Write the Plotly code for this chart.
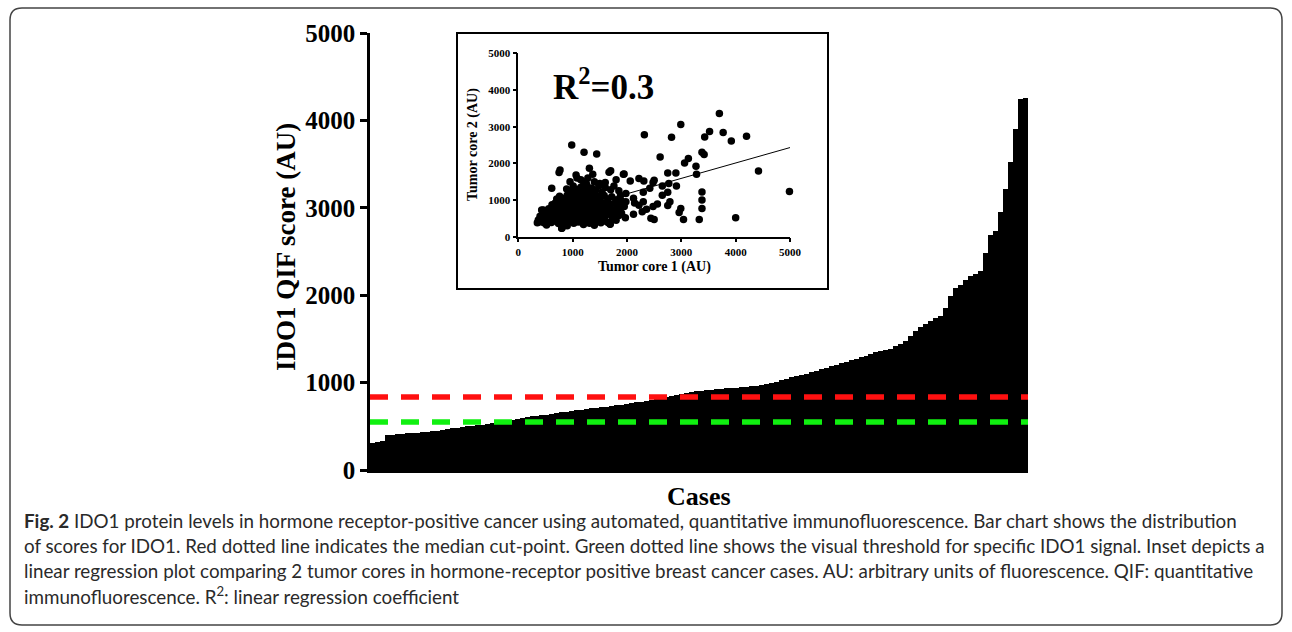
import plotly.graph_objects as go

W, H = 1292, 632

# ---------------- data ----------------
# Sorted IDO1 QIF scores per case (bar chart)
ido1_scores = [
    312, 325, 335, 395, 402, 408, 412, 418, 422, 427, 432, 438, 445, 452, 460, 468,
    476, 485, 493, 500, 506, 512, 519, 528, 536, 545, 555, 564, 574, 585, 596, 606,
    613, 620, 626, 633, 642, 651, 659, 667, 675, 683, 692, 700, 707, 713, 719, 726,
    733, 740, 747, 755, 764, 774, 783, 790, 798, 808, 820, 833, 848, 858, 868, 880,
    890, 899, 907, 914, 920, 925, 930, 935, 939, 943, 947, 952, 958, 965, 972, 980,
    990, 1005, 1025, 1046, 1060, 1073, 1088, 1104, 1120, 1138, 1157, 1172, 1188, 1204, 1220, 1237,
    1255, 1274, 1292, 1310, 1328, 1345, 1358, 1370, 1390, 1415, 1440, 1480, 1530, 1590, 1640, 1672,
    1710, 1735, 1758, 1850, 1990, 2080, 2120, 2170, 2215, 2245, 2275, 2480, 2690, 2730, 2950, 3220,
    3520, 3900, 4250, 4256,
]
cases = list(range(len(ido1_scores)))

median_cut = 835          # red dashed line
visual_threshold = 550    # green dashed line

y_ticks = [0, 1000, 2000, 3000, 4000, 5000]
inset_ticks = [0, 1000, 2000, 3000, 4000, 5000]

# Inset scatter: tumor core 1 (x) vs tumor core 2 (y)
core1 = [
    # low band
    380, 420, 470, 520, 560, 610, 650, 700, 740, 780, 800, 830, 870, 900, 940, 980, 1020, 1060,
    1100, 1140, 1180, 1230, 1270, 1310, 1350, 1400, 1440, 1480, 1520, 1560, 1600, 1650, 1690, 1740, 1800,
    # ~600
    400, 450, 500, 540, 580, 620, 660, 700, 750, 790, 820, 860, 900, 940, 980, 1010, 1050, 1090,
    1130, 1170, 1210, 1250, 1290, 1330, 1370, 1420, 1460, 1500, 1550, 1600, 1660, 1720, 1780, 1850, 1900,
    # ~750
    430, 480, 560, 600, 640, 690, 730, 770, 810, 850, 890, 930, 970, 1000, 1040, 1080, 1120,
    1160, 1200, 1240, 1280, 1320, 1360, 1400, 1450, 1490, 1530, 1580, 1620, 1680, 1750, 1820, 1870,
    # ~900
    620, 680, 720, 760, 800, 840, 880, 920, 960, 1000, 1040, 1080, 1120, 1160, 1200, 1240, 1280,
    1320, 1360, 1400, 1450, 1500, 1560, 1620, 1700, 1780, 1880,
    # ~1080
    707, 760, 850, 900, 950, 1000, 1050, 1090, 1130, 1180, 1230, 1270, 1310, 1360, 1400, 1450,
    1510, 1580, 1650, 1720, 1800, 1880,
    # ~1300
    890, 960, 1010, 1060, 1110, 1150, 1200, 1260, 1300, 1350, 1420, 1480, 1540, 1600, 1700, 1760, 1850,
    # upper scattered, left part
    983, 1210, 1443, 768, 750, 1308, 1370, 1063, 1670, 1700, 1934, 952, 615, 1200, 1080, 1150,
    1250, 1400, 1500, 1600, 1800, 1280,
    # lowest points
    368, 460, 800, 1690, 350, 520, 900, 1200, 1400,
    # right part
    3700, 2990, 2320, 2820, 3520, 3770, 3430, 3920, 4200, 3380, 3420, 2610, 3130, 3060, 3270, 3280,
    2900, 2750, 1947, 2060, 2220, 2310, 2480, 2500, 2770, 2910, 2650, 2420, 2750, 2650, 3380, 3380,
    3380, 3330, 3040, 2960, 2990, 2790, 2750, 2560, 2480, 2300, 2300, 2220, 2360, 2440, 2500, 2120,
    2140, 1980, 1980, 1950, 1970, 2120, 2280, 1900, 4420, 4990, 4000,
]
core2 = [
    400, 470, 380, 430, 500, 390, 450, 420, 360, 470, 230, 400, 440, 380, 500, 420, 370, 460,
    400, 430, 380, 470, 410, 370, 450, 400, 480, 420, 380, 460, 430, 390, 340, 470, 450,
    560, 620, 540, 600, 650, 560, 620, 580, 640, 550, 610, 580, 640, 560, 620, 570, 650, 590,
    540, 630, 580, 640, 560, 610, 570, 650, 590, 550, 630, 580, 620, 560, 620, 580, 640,
    730, 700, 760, 720, 790, 740, 700, 780, 730, 800, 710, 760, 800, 720, 770, 700, 800,
    740, 780, 710, 760, 800, 730, 770, 720, 790, 740, 800, 720, 770, 730, 790, 700,
    870, 920, 860, 940, 880, 930, 860, 910, 870, 940, 880, 920, 860, 950, 890, 930, 870,
    940, 880, 920, 860, 940, 890, 930, 880, 920, 860,
    1027, 1100, 1050, 1130, 1000, 1080, 1150, 1020, 1100, 1060, 1130, 1010, 1090, 1150, 1040, 1110,
    1050, 1120, 1030, 1090, 1000, 1120,
    1300, 1240, 1380, 1290, 1220, 1350, 1280, 1400, 1240, 1330, 1260, 1380, 1220, 1340, 1280, 1380, 1250,
    2499, 2300, 2254, 1817, 1750, 1864, 1700, 1681, 1754, 1800, 1700, 1499, 1318, 1500, 1600, 1550,
    1450, 1500, 1450, 1480, 1550, 1600,
    455, 727, 229, 346, 380, 320, 300, 330, 310,
    3360, 3060, 2780, 2710, 2870, 2840, 2720, 2610, 2740, 2300, 2240, 2170, 2130, 2010, 1920, 1700,
    1740, 1740, 1708, 1520, 1590, 1520, 1480, 1540, 1450, 1380, 1380, 1320, 1210, 1130, 1220, 1000,
    770, 470, 470, 660, 770, 950, 850, 890, 820, 1210, 950, 860, 750, 500, 470, 1050,
    920, 1180, 950, 820, 520, 610, 680, 970, 1790, 1230, 520,
]
fit_intercept = 330
fit_slope = 0.42
fit_x = [350, 5000]
fit_y = [fit_intercept + fit_slope * v for v in fit_x]

caption_lines = [
    "<b>Fig. 2</b> IDO1 protein levels in hormone receptor-positive cancer using automated, quantitative immunofluorescence. Bar chart shows the distribution",
    "of scores for IDO1. Red dotted line indicates the median cut-point. Green dotted line shows the visual threshold for specific IDO1 signal. Inset depicts a",
    "linear regression plot comparing 2 tumor cores in hormone-receptor positive breast cancer cases. AU: arbitrary units of fluorescence. QIF: quantitative",
    "immunofluorescence. R<sup>2</sup>: linear regression coefficient",
]

# ---------------- helpers (layout only) ----------------
def px(x):
    return x / W

def py(y):
    return 1 - y / H

SERIF = "Liberation Serif, Times New Roman, serif"

fig = go.Figure()

# Bars
fig.add_trace(go.Bar(
    x=cases, y=ido1_scores, marker=dict(color="black", line=dict(width=0)),
    width=1.0, xaxis="x", yaxis="y", showlegend=False, hoverinfo="skip",
))
# Threshold lines
n = len(cases)
fig.add_trace(go.Scatter(
    x=[-0.5, n - 0.5], y=[median_cut, median_cut], mode="lines",
    line=dict(color="#ff1010", width=5.5, dash="18px,13px"),
    xaxis="x", yaxis="y", showlegend=False, hoverinfo="skip",
))
fig.add_trace(go.Scatter(
    x=[-0.5, n - 0.5], y=[visual_threshold, visual_threshold], mode="lines",
    line=dict(color="#10f010", width=5.5, dash="18px,13px"),
    xaxis="x", yaxis="y", showlegend=False, hoverinfo="skip",
))

# Inset scatter
fig.add_trace(go.Scatter(
    x=core1, y=core2, mode="markers",
    marker=dict(color="black", size=7.5, line=dict(width=0)),
    xaxis="x2", yaxis="y2", showlegend=False, cliponaxis=False, hoverinfo="skip",
))
fig.add_trace(go.Scatter(
    x=fit_x, y=fit_y, mode="lines", line=dict(color="black", width=1),
    xaxis="x2", yaxis="y2", showlegend=False, hoverinfo="skip",
))

fig.update_layout(
    width=W, height=H, template="none",
    margin=dict(l=0, r=0, t=0, b=0, autoexpand=False),
    paper_bgcolor="white", plot_bgcolor="rgba(0,0,0,0)",
    bargap=0,
    xaxis=dict(
        domain=[px(370), px(1028)], range=[-0.5, n - 0.5],
        showline=True, linecolor="black", linewidth=2.5,
        showticklabels=False, ticks="", showgrid=False, zeroline=False, automargin=False,
    ),
    yaxis=dict(
        domain=[py(470), py(33)], range=[0, 5000],
        tickvals=y_ticks, ticktext=[str(v) for v in y_ticks],
        ticks="outside", ticklen=7, tickwidth=2.5, tickcolor="black",
        showline=True, linecolor="black", linewidth=2.5,
        tickfont=dict(family=SERIF, size=25, color="black", weight="bold"),
        showgrid=False, zeroline=False, automargin=False,
    ),
    xaxis2=dict(
        domain=[px(518.3), px(790)], range=[0, 5000], anchor="y2",
        tickvals=inset_ticks, ticktext=[str(v) for v in inset_ticks],
        ticks="outside", ticklen=4, tickwidth=1.5, tickcolor="black",
        showline=True, linecolor="black", linewidth=1.5,
        tickfont=dict(family=SERIF, size=11, color="black", weight="bold"),
        showgrid=False, zeroline=False, automargin=False,
    ),
    yaxis2=dict(
        domain=[py(236.7), py(53.3)], range=[0, 5000], anchor="x2",
        tickvals=inset_ticks, ticktext=[str(v) for v in inset_ticks],
        ticks="outside", ticklen=4, tickwidth=1.5, tickcolor="black",
        showline=True, linecolor="black", linewidth=1.5,
        tickfont=dict(family=SERIF, size=11, color="black", weight="bold"),
        showgrid=False, zeroline=False, automargin=False,
    ),
)

# Frame and inset box
r = 12
x0, x1, y0, y1 = 10, 1282, 8, 625
path = (
    f"M {px(x0 + r)},{py(y0)} L {px(x1 - r)},{py(y0)} Q {px(x1)},{py(y0)} {px(x1)},{py(y0 + r)} "
    f"L {px(x1)},{py(y1 - r)} Q {px(x1)},{py(y1)} {px(x1 - r)},{py(y1)} "
    f"L {px(x0 + r)},{py(y1)} Q {px(x0)},{py(y1)} {px(x0)},{py(y1 - r)} "
    f"L {px(x0)},{py(y0 + r)} Q {px(x0)},{py(y0)} {px(x0 + r)},{py(y0)} Z"
)
fig.add_shape(type="path", path=path, xref="paper", yref="paper",
              line=dict(color="#444", width=1.5), layer="above")
fig.add_shape(type="rect", xref="paper", yref="paper",
              x0=px(457), x1=px(828), y0=py(289), y1=py(33),
              line=dict(color="black", width=2), fillcolor="rgba(0,0,0,0)", layer="above")

# Text
ann = []
ann.append(dict(text="IDO1 QIF score (AU)", x=px(286), y=py(247), textangle=-90,
                font=dict(family=SERIF, size=27, color="black", weight="bold")))
ann.append(dict(text="Cases", x=px(699), y=py(496),
                font=dict(family=SERIF, size=26, color="black", weight="bold")))
ann.append(dict(text="Tumor core 1 (AU)", x=px(654), y=py(267),
                font=dict(family=SERIF, size=14, color="black", weight="bold")))
ann.append(dict(text="Tumor core 2 (AU)", x=px(473), y=py(145), textangle=-90,
                font=dict(family=SERIF, size=14, color="black", weight="bold")))
ann.append(dict(text="R<sup>2</sup>=0.3", x=px(551), y=py(84), xanchor="left",
                font=dict(family=SERIF, size=35, color="black", weight="bold")))
for i, line in enumerate(caption_lines):
    ann.append(dict(text=line, x=px(22), y=py(520 + 25 * i), xanchor="left",
                    font=dict(family="Lato, Open Sans, sans-serif", size=18.8, color="#2a2a2a")))
for a in ann:
    a.setdefault("xanchor", "center")
    a.update(xref="paper", yref="paper", yanchor="middle", showarrow=False)
    fig.add_annotation(**a)

fig.write_html(
    "out.html",
    config={"displayModeBar": False},
    post_script="document.body.style.margin='0';document.body.style.overflow='hidden';",
)
